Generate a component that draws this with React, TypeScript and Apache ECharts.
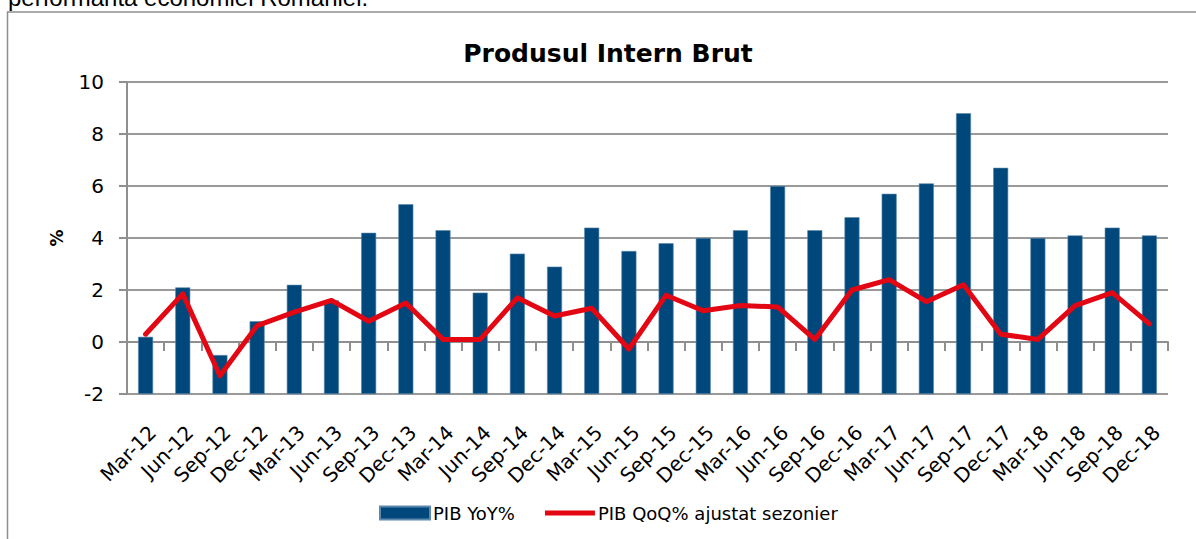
import React, { useEffect, useRef } from "react";
import * as echarts from "echarts";

const categories = [
  "Mar-12", "Jun-12", "Sep-12", "Dec-12",
  "Mar-13", "Jun-13", "Sep-13", "Dec-13",
  "Mar-14", "Jun-14", "Sep-14", "Dec-14",
  "Mar-15", "Jun-15", "Sep-15", "Dec-15",
  "Mar-16", "Jun-16", "Sep-16", "Dec-16",
  "Mar-17", "Jun-17", "Sep-17", "Dec-17",
  "Mar-18", "Jun-18", "Sep-18", "Dec-18",
];

const pibYoY = [
  0.2, 2.1, -0.5, 0.8,
  2.2, 1.6, 4.2, 5.3,
  4.3, 1.9, 3.4, 2.9,
  4.4, 3.5, 3.8, 4.0,
  4.3, 6.0, 4.3, 4.8,
  5.7, 6.1, 8.8, 6.7,
  4.0, 4.1, 4.4, 4.1,
];

const pibQoQ = [
  0.3, 1.85, -1.3, 0.63,
  1.15, 1.6, 0.8, 1.5,
  0.1, 0.1, 1.7, 1.0,
  1.3, -0.27, 1.8, 1.2,
  1.4, 1.35, 0.1, 2.0,
  2.4, 1.55, 2.2, 0.3,
  0.1, 1.4, 1.9, 0.7,
];

const yMin = -2;
const yMax = 10;
const yInterval = 2;

const FONT = "DejaVu Sans";

export default function App() {
  const ref = useRef<HTMLDivElement>(null);

  useEffect(() => {
    if (!ref.current) return;
    const chart = echarts.init(ref.current, null, { renderer: "svg" });
    chart.setOption({
      animation: false,
      backgroundColor: "#ffffff",
      graphic: [
        {
          type: "rect",
          shape: { x: 7.5, y: 12, width: 1250, height: 600 },
          style: { fill: "none", stroke: "#8f8f8f", lineWidth: 1.5 },
          silent: true,
          z: 0,
        },
        {
          type: "text",
          x: 8,
          y: -2.5,
          style: {
            text: "performanta economiei Romaniei.",
            font: "24px 'Liberation Sans'",
            fill: "#000000",
            verticalAlign: "middle",
            align: "left",
          },
          silent: true,
        },
        {
          type: "text",
          x: 608,
          y: 53,
          style: {
            text: "Produsul Intern Brut",
            font: "bold 25px 'DejaVu Sans'",
            fill: "#000000",
            verticalAlign: "middle",
            align: "center",
          },
          silent: true,
        },
      ],
      legend: {
        left: 374,
        top: 499,
        itemWidth: 50,
        itemHeight: 13,
        itemGap: 30,
        symbolKeepAspect: true,
        textStyle: { fontFamily: FONT, fontSize: 18, color: "#000000", padding: [0, 0, 0, -2] },
        data: [
          { name: "PIB YoY%", icon: "rect" },
          { name: "PIB QoQ% ajustat sezonier", icon: "path://M0,0 L50,0 L50,5 L0,5 Z" },
        ],
      },
      grid: { left: 127, top: 82, right: 28, bottom: 145, containLabel: false },
      xAxis: {
        type: "category",
        data: categories,
        boundaryGap: true,
        axisLine: { show: true, lineStyle: { color: "#8f8f8f", width: 2 } },
        axisTick: { show: true, length: 9, lineStyle: { color: "#8f8f8f", width: 2 }, alignWithLabel: false },
        axisLabel: {
          rotate: 45,
          interval: 0,
          margin: 28,
          align: "right",
          verticalAlign: "top",
          fontFamily: FONT,
          fontSize: 20,
          color: "#000000",
        },
        splitLine: { show: false },
      },
      yAxis: {
        type: "value",
        min: yMin,
        max: yMax,
        interval: yInterval,
        startValue: yMin,
        name: "%",
        nameLocation: "middle",
        nameRotate: 90,
        nameGap: 62,
        nameTextStyle: { fontFamily: FONT, fontSize: 17, fontWeight: "bold", color: "#000000" },
        axisLine: { show: true, lineStyle: { color: "#8f8f8f", width: 2 } },
        axisTick: { show: true, length: 8, lineStyle: { color: "#8f8f8f", width: 2 } },
        axisLabel: { margin: 23, fontFamily: FONT, fontSize: 20, color: "#000000" },
        splitLine: { show: true, lineStyle: { color: "#9a9a9a", width: 2 } },
      },
      series: [
        {
          name: "PIB YoY%",
          type: "bar",
          data: pibYoY,
          barWidth: 15,
          itemStyle: { color: "#00487c", borderColor: "#5d88ab", borderWidth: 0.6 },
          z: 2,
        },
        {
          name: "PIB QoQ% ajustat sezonier",
          type: "line",
          data: pibQoQ,
          symbol: "none",
          showSymbol: false,
          lineStyle: { color: "#e30613", width: 5, cap: "round", join: "round" },
          itemStyle: { color: "#e30613" },
          z: 3,
        },
      ],
    });
    return () => chart.dispose();
  }, []);

  return (
    <div
      ref={ref}
      style={{ position: "absolute", left: 0, top: 0, width: 1196, height: 539 }}
    />
  );
}
